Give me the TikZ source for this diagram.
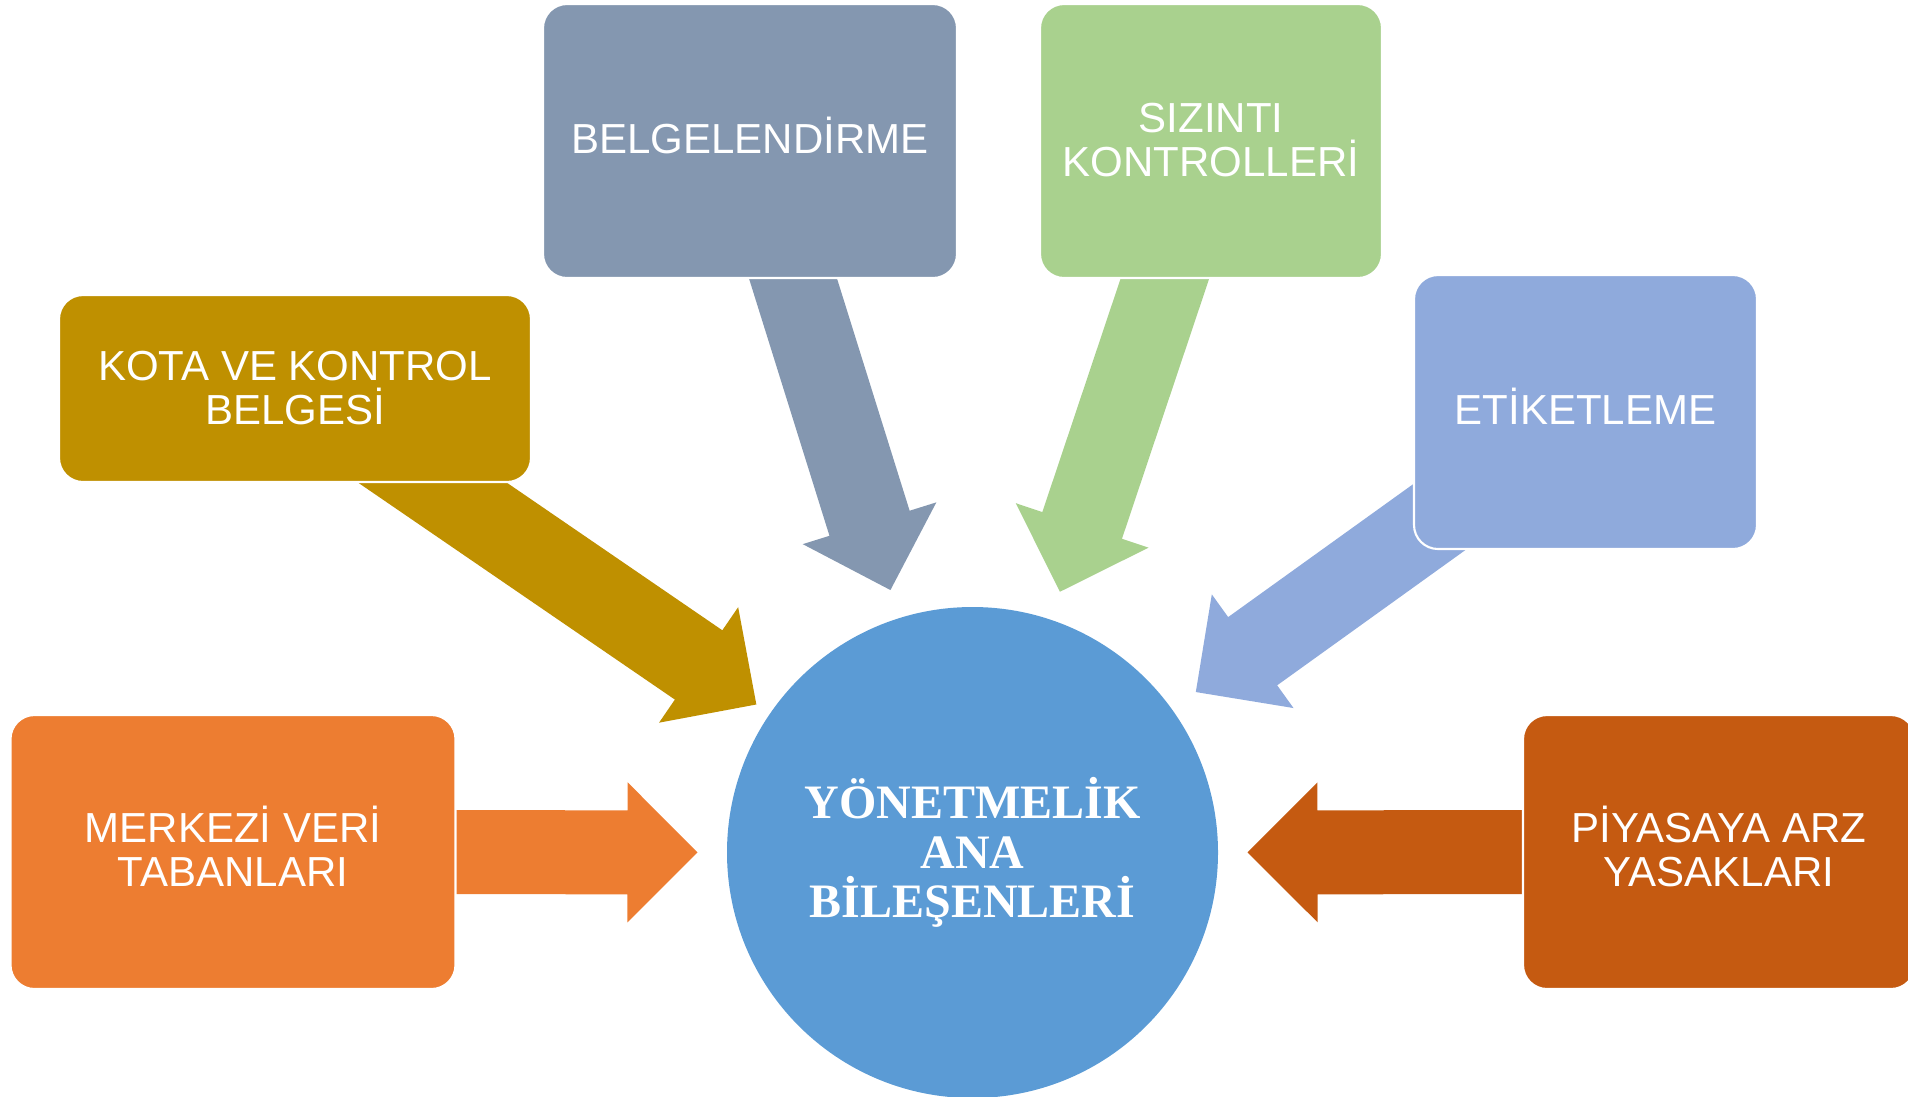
\documentclass[tikz,border=0pt]{standalone}
\usepackage{fontspec}
\usetikzlibrary{calc,backgrounds}
\newfontfamily\boxfont{Liberation Sans}
\newfontfamily\hubfont{Liberation Serif}
\definecolor{hubblue}{HTML}{5B9BD5}
\definecolor{merkezi}{HTML}{ED7D31}
\definecolor{kota}{HTML}{BF9000}
\definecolor{belge}{HTML}{8497B0}
\definecolor{sizinti}{HTML}{A9D18E}
\definecolor{etiket}{HTML}{8FAADC}
\definecolor{piyasa}{HTML}{C55A11}
\tikzset{
 part/.style={rectangle,rounded corners=0.24cm,draw=white,line width=0.6pt,
  text=white,align=center,minimum height=2.74cm,text depth=0.12cm,
  execute at begin node=\vphantom{İ},
  font=\boxfont\fontsize{11.95pt}{12.5pt}\selectfont},
 hub/.style={circle,fill=hubblue,minimum size=4.91cm,text=white,align=center,
  font=\hubfont\bfseries\fontsize{13.66pt}{14.1pt}\selectfont}
}
\newcommand\feedarrow[3]{%
 \coordinate (hd) at ($(#3)!0.7cm!(#2.center)$);
 \fill[#1] ($(#2.center)!0.42cm!90:(#3)$) -- ($(hd)!0.42cm!90:(#3)$) -- ($(hd)!0.7cm!90:(#3)$)
  -- (#3) -- ($(hd)!0.7cm!-90:(#3)$) -- ($(hd)!0.42cm!-90:(#3)$) -- ($(#2.center)!0.42cm!-90:(#3)$) -- cycle;
}
\begin{document}
\begin{tikzpicture}
 \useasboundingbox (0,0) rectangle (19.08,-10.96);
 \node[hub] (hub) at (9.725,-8.525) {YÖNETMELİK\\ANA\\BİLEŞENLERİ};
 \node[part,fill=merkezi,minimum width=4.45cm] (merkezi) at (2.33,-8.52) {MERKEZİ VERİ\\TABANLARI};
 \node[part,fill=kota,minimum width=4.72cm,minimum height=1.87cm,text depth=0.02cm] (kota) at (2.95,-3.885) {KOTA VE KONTROL\\BELGESİ};
 \node[part,fill=belge,minimum width=4.14cm] (belge) at (7.50,-1.41) {BELGELENDİRME};
 \node[part,fill=sizinti,minimum width=3.42cm,text depth=0.02cm] (sizinti) at (12.11,-1.41) {SIZINTI\\KONTROLLERİ};
 \node[part,fill=etiket,minimum width=3.43cm] (etiket) at (15.855,-4.12) {ETİKETLEME};
 \node[part,fill=piyasa,minimum width=3.92cm] (piyasa) at (17.19,-8.52) {PİYASAYA ARZ\\YASAKLARI};
 \coordinate (merkezitip) at ($(hub.center)!2.75cm!(merkezi.center)$);
 \coordinate (kotatip) at ($(hub.center)!2.62cm!(kota.center)$);
 \coordinate (belgetip) at ($(hub.center)!2.75cm!(belge.center)$);
 \coordinate (sizintitip) at ($(hub.center)!2.75cm!(sizinti.center)$);
 \coordinate (etikettip) at ($(hub.center)!2.75cm!(etiket.center)$);
 \coordinate (piyasatip) at ($(hub.center)!2.75cm!(piyasa.center)$);
 \begin{scope}[on background layer]
  \feedarrow{merkezi}{merkezi}{merkezitip}
  \feedarrow{kota}{kota}{kotatip}
  \feedarrow{belge}{belge}{belgetip}
  \feedarrow{sizinti}{sizinti}{sizintitip}
  \feedarrow{etiket}{etiket}{etikettip}
  \feedarrow{piyasa}{piyasa}{piyasatip}
 \end{scope}
\end{tikzpicture}
\end{document}
